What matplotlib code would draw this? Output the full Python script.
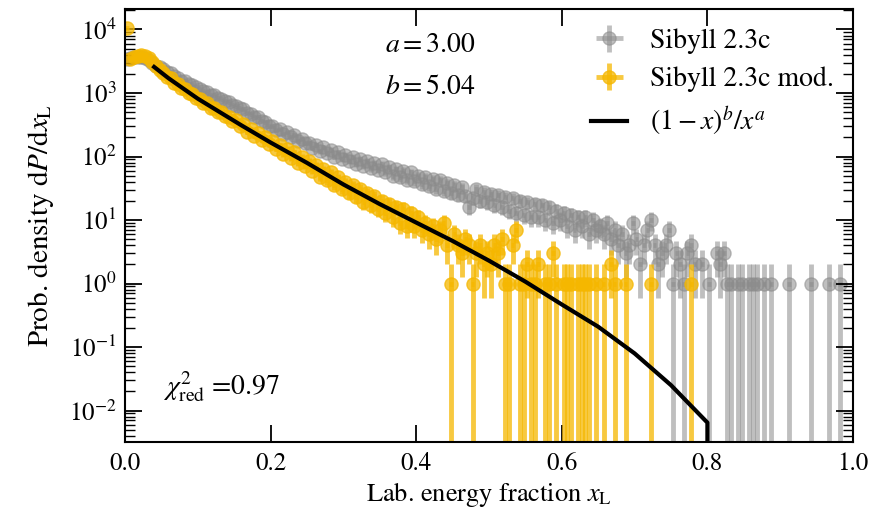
import numpy as np
import matplotlib
matplotlib.use("Agg")
import matplotlib.pyplot as plt
from matplotlib.ticker import NullFormatter

plt.rcParams["font.family"] = ["STIXGeneral", "Liberation Serif", "DejaVu Serif"]
plt.rcParams["mathtext.fontset"] = "stix"

# histogram: 200 bins of width 0.005 in x_L
N_BINS = 200
BIN_WIDTH = 0.005

# counts per bin (density = counts, error = sqrt)
SIBYLL = [
    3400, 3500, 3650, 3700, 3650, 3500, 3250, 2950, 2700, 2550,
    2380, 2150, 2030, 1820, 1740, 1570, 1520, 1380, 1340, 1220,
    1170, 1080, 1050, 940, 920, 830, 810, 740, 720, 650,
    620, 570, 550, 490, 475, 425, 420, 365, 355, 300,
    300, 258, 268, 226, 240, 200, 218, 178, 192, 162,
    166, 138, 154, 122, 139, 112, 128, 100, 117, 93,
    107, 85, 100, 77, 93, 71, 86, 66, 80, 62,
    75, 56, 68, 50, 64, 47, 60, 43, 57, 41,
    50, 37, 48, 34, 45, 31, 42, 29, 38, 27,
    35, 25, 33, 24, 16, 22, 31, 20, 28, 19,
    26, 17, 25, 16, 23, 14, 22, 13, 20, 12,
    19, 11, 18, 11, 17, 10, 16, 9, 14, 10,
    13, 8, 12, 7, 11, 8, 11, 6, 10, 7,
    8, 6, 9, 5, 7, 4, 6, 3, 4, 9,
    5, 2, 4, 7, 10, 4, 2, 3, 4, 7,
    1, 3, 2, 1, 3, 4, 2, 0, 2, 0,
    1, 0, 3, 2, 3, 1, 1, 0, 1, 1,
    0, 1, 1, 1, 0, 1, 0, 1, 0, 0,
    0, 0, 1, 0, 0, 0, 0, 0, 1, 0,
    0, 0, 0, 1, 0, 0, 1, 0, 0, 0,
]

SIBYLL_MOD = [
    10500, 3450, 3650, 3800, 3900, 3800, 3500, 3100, 2650, 2300,
    2050, 1790, 1700, 1460, 1390, 1200, 1150, 990, 950, 830,
    800, 700, 690, 590, 585, 500, 495, 430, 425, 365,
    370, 300, 320, 245, 275, 212, 235, 180, 200, 155,
    175, 132, 150, 108, 133, 96, 116, 80, 99, 72,
    86, 60, 74, 48, 64, 42, 57, 36, 47, 31,
    40, 27, 35, 23, 31, 19, 27, 17, 24, 15,
    20, 13, 18, 11, 16, 9, 15, 8, 13, 8,
    11, 7, 9, 6, 8, 5, 7, 9, 4, 1,
    6, 4, 3, 5, 4, 1, 3, 4, 2, 3,
    2, 4, 3, 5, 1, 1, 4, 7, 1, 1,
    2, 1, 1, 2, 0, 1, 1, 3, 1, 0,
    1, 1, 1, 0, 1, 1, 1, 1, 0, 1,
    0, 1, 0, 2, 1, 0, 0, 1, 0, 0,
    0, 0, 0, 0, 1, 0, 0, 0, 0, 0,
    0, 0, 0, 0, 0, 1, 0, 0, 0, 0,
    0, 0, 0, 0, 0, 0, 0, 0, 0, 0,
    0, 0, 0, 0, 0, 0, 0, 0, 0, 0,
    0, 0, 0, 0, 0, 0, 0, 0, 0, 0,
    0, 0, 0, 0, 0, 0, 0, 0, 0, 0,
]

# fitted curve (1-x)^b / x^a
FIT_X = [0.04, 0.06, 0.08, 0.10, 0.12, 0.16, 0.20, 0.25, 0.30, 0.35, 0.40,
         0.45, 0.50, 0.55, 0.60, 0.65, 0.70, 0.75, 0.80, 0.80]
FIT_Y = [2570, 1700, 1175, 813, 589, 309, 166, 79.4, 36.3, 17.8, 9.12,
         4.68, 2.29, 1.07, 0.468, 0.209, 0.0794, 0.0251, 0.00646, 0.0]

Y_TICKS = [1e-2, 1e-1, 1e0, 1e1, 1e2, 1e3, 1e4]
X_TICKS = [0.0, 0.2, 0.4, 0.6, 0.8, 1.0]

GRAY = "#8c8c8c"
YELLOW = "#f5b700"


def draw_hist(ax, counts, color, alpha, label, z):
    counts = np.asarray(counts, dtype=float)
    x = (np.arange(N_BINS) + 0.5) * BIN_WIDTH
    m = counts > 0
    return ax.errorbar(x[m], counts[m], xerr=BIN_WIDTH / 2, yerr=np.sqrt(counts[m]),
                       fmt="o", ms=9.5, color=color, alpha=alpha, elinewidth=3.5,
                       capsize=0, label=label, zorder=z)


fig = plt.figure(figsize=(8.94, 5.12), dpi=100)
ax = fig.add_axes([125 / 894, 1 - 442 / 512, 728 / 894, 433 / 512])

h1 = draw_hist(ax, SIBYLL, GRAY, 0.55, "Sibyll 2.3c", 1)
h2 = draw_hist(ax, SIBYLL_MOD, YELLOW, 0.75, "Sibyll 2.3c mod.", 2)
h3, = ax.plot(FIT_X, FIT_Y, color="black", lw=3, label=r"$(1-x)^b/x^a$", zorder=3)

ax.set_yscale("log")
ax.set_xlim(0, 1)
ax.set_ylim(3.2e-3, 2.1e4)
ax.set_xticks(X_TICKS)
ax.set_yticks(Y_TICKS)
ax.yaxis.set_minor_formatter(NullFormatter())
ax.tick_params(which="both", direction="in", top=True, right=True, labelsize=18)
ax.tick_params(which="major", length=12, width=1.3)
ax.tick_params(which="minor", length=7, width=1.0)
ax.tick_params(axis="x", pad=7)
ax.tick_params(axis="y", pad=6)
for s in ax.spines.values():
    s.set_linewidth(1.5)

ax.set_xlabel(r"Lab. energy fraction $x_\mathrm{L}$", fontsize=19, labelpad=3)
ax.set_ylabel(r"Prob. density d$P$/d$x_\mathrm{L}$", fontsize=21, labelpad=9)

ax.text(0.42, 0.917, r"$a = 3.00$", transform=ax.transAxes, fontsize=20,
        ha="center", va="center")
ax.text(0.42, 0.82, r"$b = 5.04$", transform=ax.transAxes, fontsize=20,
        ha="center", va="center")
ax.text(0.052, 0.127, r"$\chi^2_\mathrm{red}$ =0.97", transform=ax.transAxes,
        fontsize=20, ha="left", va="center")

ax.legend([h1, h2, h3], [h.get_label() for h in (h1, h2, h3)],
          loc="upper right", frameon=False, fontsize=20, handlelength=1.3,
          handletextpad=0.8, labelspacing=0.45, borderaxespad=0.3)

fig.savefig("out.png", dpi=100)
